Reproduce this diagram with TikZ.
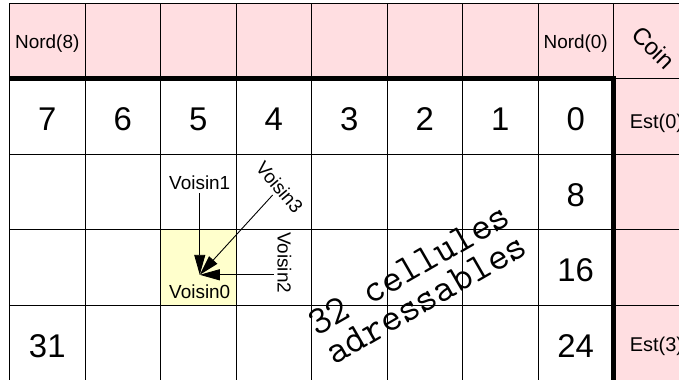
\documentclass[tikz,border=0pt]{standalone}
\usepackage{fontspec}
\setmainfont{Liberation Sans}
\usepackage{tikz}
\usetikzlibrary{arrows.meta}
\definecolor{CasePink}{RGB}{255,222,225}
\definecolor{CaseYellow}{RGB}{255,255,204}

\begin{document}
\begin{tikzpicture}[x=75.5bp, y=-75.5bp,
		grille/.style={line width=0.9bp},
		bord/.style={line width=4.5bp},
		numero/.style={font=\fontsize{33}{33}\selectfont},
		etiq/.style={font=\fontsize{19}{19}\selectfont},
		fleche/.style={-{Triangle[length=20bp,width=11bp]}, line width=0.9bp}]
		\useasboundingbox (-0.126,-0.04) rectangle (8.868,4.993);
		\clip (-0.126,-0.04) rectangle (8.868,4.993);
		
		% cases du bord (Nord, Est, Coin) et case du Voisin0
		\fill[CasePink] (0,0) rectangle (9,1);
		\fill[CasePink] (8,1) rectangle (9,5);
		\fill[CaseYellow] (2,3) rectangle (3,4);
		
		% grille
		\foreach \i in {0,...,9}
			\draw[grille] (\i,0) -- (\i,5);
		\foreach \j in {0,...,5}
			\draw[grille] (0,\j) -- (9,\j);
		
		% limite des cellules adressables
		\draw[bord] (0,1) -- (8,1) -- (8,5);
		
		% bord
		\node[etiq] (nord8) at (0.5,0.54) {Nord(8)};
		\node[etiq] (nord0) at (7.5,0.54) {Nord(0)};
		\node[font=\fontsize{24}{24}\selectfont, rotate=-45] (coin) at (8.53,0.59) {Coin};
		\node[etiq, font=\fontsize{20}{20}\selectfont] (est0) at (8.57,1.6) {Est(0)};
		\node[etiq, font=\fontsize{20}{20}\selectfont] (est3) at (8.57,4.55) {Est(3)};
		
		% numeros des cellules
		\foreach \c [evaluate=\c as \n using int(7-\c)] in {0,...,7}
			\node[numero] (case\n) at (\c+0.5,1.54) {\n};
		\node[numero] (case8) at (7.5,2.54) {8};
		\node[numero] (case16) at (7.5,3.54) {16};
		\node[numero] (case24) at (7.5,4.54) {24};
		\node[numero] (case31) at (0.5,4.54) {31};
		
		% voisins
		\coordinate (v0) at (2.52,3.6);
		\node[etiq] (voisin1) at (2.52,2.38) {Voisin1};
		\node[etiq, rotate=-50] (voisin3) at (3.58,2.44) {Voisin3};
		\node[etiq, rotate=-90] (voisin2) at (3.64,3.44) {Voisin2};
		\node[etiq] (voisin0) at (2.52,3.83) {Voisin0};
		\draw[fleche] (voisin1) -- (v0);
		\draw[fleche] (voisin3) -- (v0);
		\draw[fleche] (voisin2.south |- v0) -- (v0);
		
		\node[font=\ttfamily\fontsize{40}{34}\selectfont, align=center, rotate=30] (adr) at (5.4,3.72) {32 cellules\\adressables};
	\end{tikzpicture}
\end{document}
